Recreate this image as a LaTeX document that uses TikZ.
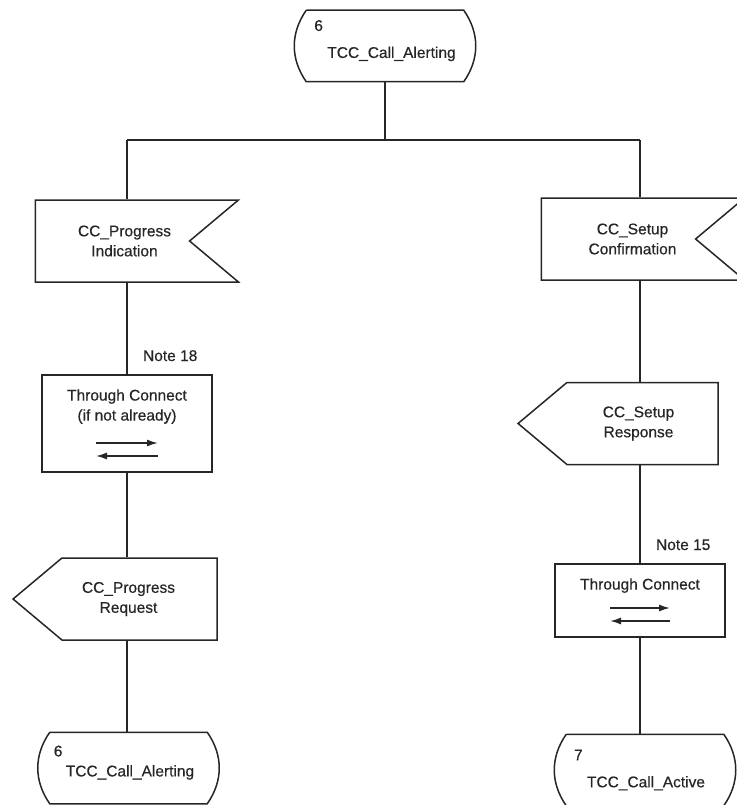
\documentclass[tikz,border=0pt]{standalone}
\usepackage{fontspec}
\setmainfont{Liberation Sans}[FakeBold=0.5]
\usetikzlibrary{arrows.meta,positioning,calc,shapes.symbols}

% SDL state symbol: flat top and bottom, bulging sides
\newcommand{\stateoutline}[1]{%
  \draw (#1.north west) -- (#1.north east) to[bend left=35] (#1.south east)
    -- (#1.south west) to[bend left=35] (#1.north west);}
% the two arrows inside a through-connect box
\newcommand{\bothways}[3]{%
  \draw[-{Latex[length=11pt,width=7pt]}] ($(#1.center)+(-#3,#2)$) -- ++(2*#3,0);
  \draw[-{Latex[length=11pt,width=7pt]}] ($(#1.center)+(#3,#2+13)$) -- ++(-2*#3,0);}

\begin{document}
\begin{tikzpicture}[
  x=1pt, y=-1pt,
  line width=1.5pt, color=black!85,
  font=\fontsize{15.5}{20}\selectfont,
  state/.style={minimum width=156pt, minimum height=70pt, inner sep=0pt, align=left},
  insig/.style={draw, signal, signal to=nowhere, signal from=east, signal pointer angle=80, minimum width=203pt, minimum height=82pt, inner sep=0pt, align=center},
  outsig/.style={draw, signal, signal to=west, signal pointer angle=80, minimum width=204pt, minimum height=82pt, inner sep=0pt, align=center},
  task/.style={draw, minimum width=170pt, inner sep=0pt},
]
\useasboundingbox (0,0) rectangle (736,805);

\node[state] (alerting) at (385,46) {6\\[7pt]\hspace*{13pt}TCC\_Call\_Alerting\rule[-14pt]{0pt}{14pt}};
\stateoutline{alerting}

% left branch
\node[insig] (progind) at (112.5,241) {\hspace*{24pt}CC\_Progress\\\hspace*{24pt}Indication};
\node[task, minimum height=97pt] (thru1) at (127,423.5) {};
\node[below=11pt of thru1.north, align=center] (thru1txt) {Through Connect\\(if not already)};
\bothways{thru1}{19.5}{31}
\node[above right=9pt and 12pt of thru1.north] (note18) {Note 18};
\node[outsig] (progreq) at (139.5,599) {CC\_Progress\hspace*{22pt}\\Request\hspace*{22pt}};
\node[state] (alerting2) at (128.5,768) {6\\\hspace*{12pt}TCC\_Call\_Alerting\hspace*{9pt}\rule[-14pt]{0pt}{14pt}};
\stateoutline{alerting2}

% right branch
\node[insig] (setupconf) at (618.5,239) {\hspace*{28pt}CC\_Setup\\\hspace*{28pt}Confirmation};
\node[outsig, minimum width=200pt] (setupresp) at (642.5,423.5) {CC\_Setup\hspace*{8pt}\\Response\hspace*{8pt}};
\node[task, minimum height=73pt] (thru2) at (640,600.5) {};
\node[below=11pt of thru2.north] (thru2txt) {Through Connect};
\bothways{thru2}{7.5}{30}
\node[above right=9pt and 12pt of thru2.north] (note15) {Note 15};
\node[state] (active) at (645,770) {7\\[7pt]\hspace*{13pt}TCC\_Call\_Active\hspace*{11pt}};
\stateoutline{active}

% connectors
\coordinate (forkL) at (127,140);
\coordinate (forkR) at (640,140);
\draw (alerting.south) -- (alerting.south |- forkL);
\draw (forkL) -- (forkR);
\draw (forkL) -- (forkL |- progind.north);
\draw (forkL |- progind.south) -- (thru1.north);
\draw (thru1.south) -- (forkL |- progreq.north);
\draw (forkL |- progreq.south) -- (forkL |- alerting2.north);
\draw (forkR) -- (forkR |- setupconf.north);
\draw (forkR |- setupconf.south) -- (forkR |- setupresp.north);
\draw (forkR |- setupresp.south) -- (thru2.north);
\draw (thru2.south) -- (forkR |- active.north);
\end{tikzpicture}
\end{document}
